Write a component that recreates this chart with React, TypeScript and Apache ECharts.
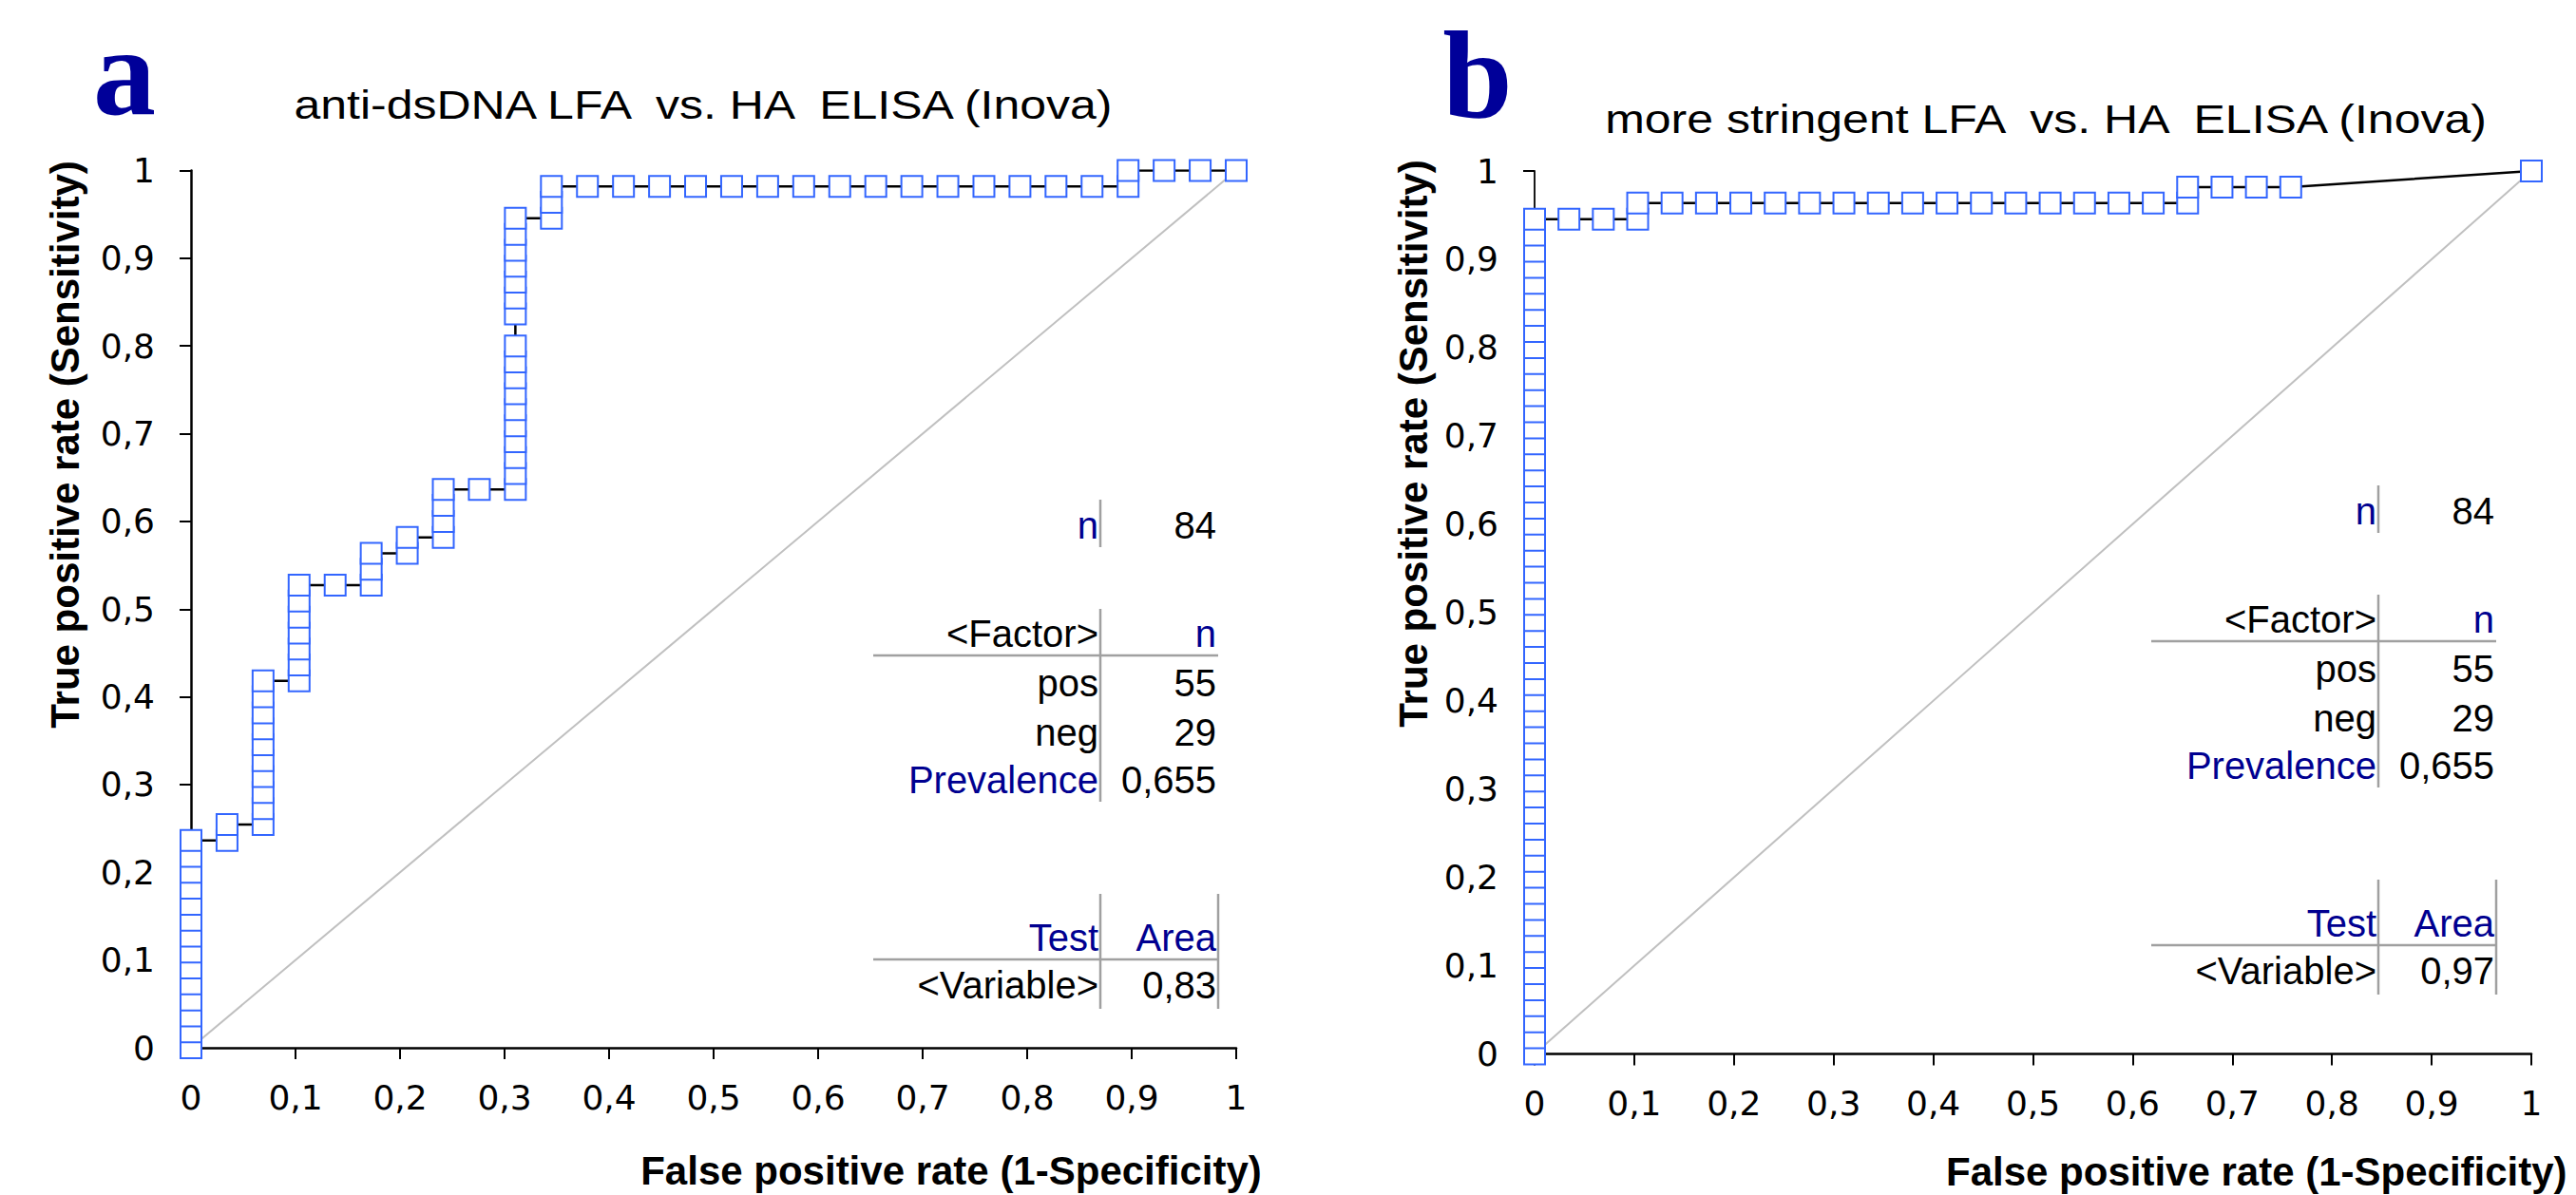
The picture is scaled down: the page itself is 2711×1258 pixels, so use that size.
import React, { useEffect, useRef } from "react";
import * as echarts from "echarts";

// ---------- data ----------
const POS = 55; // positives (n)
const NEG = 29; // negatives (n)

// Panel a: ROC points as (false positives, true positives) counts
const rocA_fp = [
  0, 0, 0, 0, 0, 0, 0, 0, 0, 0, 0, 0, 0, 0,
  1, 1,
  2, 2, 2, 2, 2, 2, 2, 2, 2, 2,
  3, 3, 3, 3, 3, 3, 3,
  4,
  5, 5, 5,
  6, 6,
  7, 7, 7, 7,
  8,
  9, 9, 9, 9, 9, 9, 9, 9, 9, 9, 9, 9, 9, 9, 9, 9, 9,
  10, 10, 10,
  11, 12, 13, 14, 15, 16, 17, 18, 19, 20, 21, 22, 23, 24, 25,
  26, 26,
  27, 28, 29,
];
const rocA_tp = [
  0, 1, 2, 3, 4, 5, 6, 7, 8, 9, 10, 11, 12, 13,
  13, 14,
  14, 15, 16, 17, 18, 19, 20, 21, 22, 23,
  23, 24, 25, 26, 27, 28, 29,
  29,
  29, 30, 31,
  31, 32,
  32, 33, 34, 35,
  35,
  35, 36, 37, 38, 39, 40, 41, 42, 43, 44, 46, 47, 48, 49, 50, 51, 52,
  52, 53, 54,
  54, 54, 54, 54, 54, 54, 54, 54, 54, 54, 54, 54, 54, 54, 54,
  54, 55,
  55, 55, 55,
];

// Panel b
const rocB_fp = [
  0, 0, 0, 0, 0, 0, 0, 0, 0, 0, 0, 0, 0, 0, 0, 0, 0, 0, 0, 0, 0, 0, 0, 0, 0, 0, 0,
  0, 0, 0, 0, 0, 0, 0, 0, 0, 0, 0, 0, 0, 0, 0, 0, 0, 0, 0, 0, 0, 0, 0, 0, 0, 0,
  1, 2,
  3, 3,
  4, 5, 6, 7, 8, 9, 10, 11, 12, 13, 14, 15, 16, 17, 18,
  19, 19,
  20, 21, 22,
  29,
];
const rocB_tp = [
  0, 1, 2, 3, 4, 5, 6, 7, 8, 9, 10, 11, 12, 13, 14, 15, 16, 17, 18, 19, 20, 21, 22, 23, 24, 25, 26,
  27, 28, 29, 30, 31, 32, 33, 34, 35, 36, 37, 38, 39, 40, 41, 42, 43, 44, 45, 46, 47, 48, 49, 50, 51, 52,
  52, 52,
  52, 53,
  53, 53, 53, 53, 53, 53, 53, 53, 53, 53, 53, 53, 53, 53, 53,
  53, 54,
  54, 54, 54,
  55,
];

const tickLabels = ["0", "0,1", "0,2", "0,3", "0,4", "0,5", "0,6", "0,7", "0,8", "0,9", "1"];
const titles = ["anti-dsDNA LFA  vs. HA  ELISA (Inova)", "more stringent LFA  vs. HA  ELISA (Inova)"];
const panelLetters = ["a", "b"];
const xAxisTitle = "False positive rate (1-Specificity)";
const yAxisTitle = "True positive rate (Sensitivity)";
const tableN = ["84", "84"];
const factorRows = ["pos", "neg"];
const factorCounts = [["55", "29"], ["55", "29"]];
const prevalence = ["0,655", "0,655"];
const areas = ["0,83", "0,97"];

// ---------- styling ----------
const SANS = "'Liberation Sans', Arial, sans-serif";
const SERIF = "'Liberation Serif', 'Times New Roman', serif";
const TICKFONT = "'DejaVu Sans', Verdana, sans-serif";
const BLUE = "#000090";
const MARK = "#3366ff";

function tableGraphics(sepX: number, rightX: number, lineL: number, dy: number, idx: number) {
  const els: any[] = [];
  const t = (text: string, x: number, y: number, fill: string) => ({
    type: "text",
    x,
    y: y + dy,
    style: { text, fill, font: `40px ${SANS}`, align: "right", verticalAlign: "middle", textAlign: "right", textVerticalAlign: "middle" },
  });
  const ln = (x1: number, y1: number, x2: number, y2: number) => ({
    type: "line",
    shape: { x1, y1: y1 + dy, x2, y2: y2 + dy },
    style: { stroke: "#a0a0a0", lineWidth: 2.5 },
  });
  const lx = sepX - 2;
  const rx = rightX - 2;
  els.push(t("n", lx, 553, BLUE), t(tableN[idx], rx, 553, "#000"));
  els.push(ln(sepX, 526, sepX, 576));
  els.push(t("<Factor>", lx, 667, "#000"), t("n", rx, 667, BLUE));
  els.push(t(factorRows[0], lx, 719, "#000"), t(factorCounts[idx][0], rx, 719, "#000"));
  els.push(t(factorRows[1], lx, 771, "#000"), t(factorCounts[idx][1], rx, 771, "#000"));
  els.push(t("Prevalence", lx, 821, BLUE), t(prevalence[idx], rx, 821, "#000"));
  els.push(ln(lineL, 690, rightX, 690), ln(sepX, 641, sepX, 844));
  els.push(t("Test", lx, 987, BLUE), t("Area", rx, 987, BLUE));
  els.push(t("<Variable>", lx, 1037, "#000"), t(areas[idx], rx, 1037, "#000"));
  els.push(ln(lineL, 1010, rightX, 1010), ln(sepX, 941, sepX, 1062), ln(rightX, 941, rightX, 1062));
  return els;
}

function axisPair(gridIndex: number, yLineWidth: number) {
  const common = {
    gridIndex,
    type: "value",
    min: 0,
    max: 1,
    interval: 0.1,
    splitLine: { show: false },
    axisTick: { show: true, length: 12, lineStyle: { color: "#000", width: 2 } },
    axisLabel: {
      color: "#000",
      fontSize: 36,
      fontFamily: TICKFONT,
      formatter: (v: number) => tickLabels[Math.round(v * 10)],
    },
  };
  return {
    x: { ...common, axisLine: { onZero: false, lineStyle: { color: "#000", width: 2.5 } }, axisLabel: { ...common.axisLabel, margin: 34 } },
    y: { ...common, axisLine: { onZero: false, lineStyle: { color: "#000", width: yLineWidth } }, axisLabel: { ...common.axisLabel, margin: 38 } },
  };
}

function rocSeries(fp: number[], tp: number[], idx: number) {
  return {
    type: "line",
    xAxisIndex: idx,
    yAxisIndex: idx,
    data: fp.map((f, i) => [f / NEG, tp[i] / POS]),
    symbol: "rect",
    symbolSize: 22,
    showSymbol: true,
    lineStyle: { color: "#000", width: 2.5 },
    itemStyle: { color: "#ffffff", borderColor: MARK, borderWidth: 2 },
    z: 3,
  };
}

function diagSeries(idx: number) {
  return {
    type: "line",
    xAxisIndex: idx,
    yAxisIndex: idx,
    data: [[0, 0], [1, 1]],
    symbol: "none",
    lineStyle: { color: "#c0c0c0", width: 2 },
    z: 1,
  };
}

export default function App() {
  const ref = useRef<HTMLDivElement>(null);
  useEffect(() => {
    if (!ref.current) return;
    const chart = echarts.init(ref.current, undefined, { renderer: "svg" });
    const a = axisPair(0, 2.5);
    const b = axisPair(1, 1.8);
    const letterStyle = (text: string) => ({
      text,
      font: `bold 132px ${SERIF}`,
      fill: "#000099",
      align: "center",
      verticalAlign: "middle",
      textAlign: "center",
      textVerticalAlign: "middle",
    });
    const graphic: any[] = [
      { type: "text", x: 131, y: 75, style: letterStyle(panelLetters[0]) },
      { type: "text", x: 1555, y: 78, style: letterStyle(panelLetters[1]) },
      {
        type: "text", x: 740, y: 110, scaleX: 1.19,
        style: { text: titles[0], font: `42px ${SANS}`, fill: "#000", align: "center", verticalAlign: "middle", textAlign: "center", textVerticalAlign: "middle" },
      },
      {
        type: "text", x: 2153, y: 125, scaleX: 1.19,
        style: { text: titles[1], font: `42px ${SANS}`, fill: "#000", align: "center", verticalAlign: "middle", textAlign: "center", textVerticalAlign: "middle" },
      },
      {
        type: "text", x: 1001, y: 1232,
        style: { text: xAxisTitle, font: `bold 42px ${SANS}`, fill: "#000", align: "center", verticalAlign: "middle", textAlign: "center", textVerticalAlign: "middle" },
      },
      {
        type: "text", x: 2048, y: 1233,
        style: { text: xAxisTitle, font: `bold 42px ${SANS}`, fill: "#000", align: "left", verticalAlign: "middle", textAlign: "left", textVerticalAlign: "middle" },
      },
      {
        type: "text", x: 68, y: 468, rotation: Math.PI / 2,
        style: { text: yAxisTitle, font: `bold 42px ${SANS}`, fill: "#000", align: "center", verticalAlign: "middle", textAlign: "center", textVerticalAlign: "middle" },
      },
      {
        type: "text", x: 1487, y: 467, rotation: Math.PI / 2,
        style: { text: yAxisTitle, font: `bold 42px ${SANS}`, fill: "#000", align: "center", verticalAlign: "middle", textAlign: "center", textVerticalAlign: "middle" },
      },
      ...tableGraphics(1158, 1282, 919, 0, 0),
      ...tableGraphics(2503, 2627, 2264, -15, 1),
    ];
    chart.setOption({
      animation: false,
      backgroundColor: "#ffffff",
      grid: [
        { left: 201, top: 179.5, width: 1100, height: 923.5 },
        { left: 1615, top: 180, width: 1049, height: 929.5 },
      ],
      xAxis: [a.x, b.x],
      yAxis: [a.y, b.y],
      series: [diagSeries(0), rocSeries(rocA_fp, rocA_tp, 0), diagSeries(1), rocSeries(rocB_fp, rocB_tp, 1)],
      graphic,
    });
    return () => chart.dispose();
  }, []);
  return (
    <div
      ref={ref}
      style={{ position: "fixed", left: 0, top: 0, width: 2711, height: 1258, background: "#fff" }}
    />
  );
}
